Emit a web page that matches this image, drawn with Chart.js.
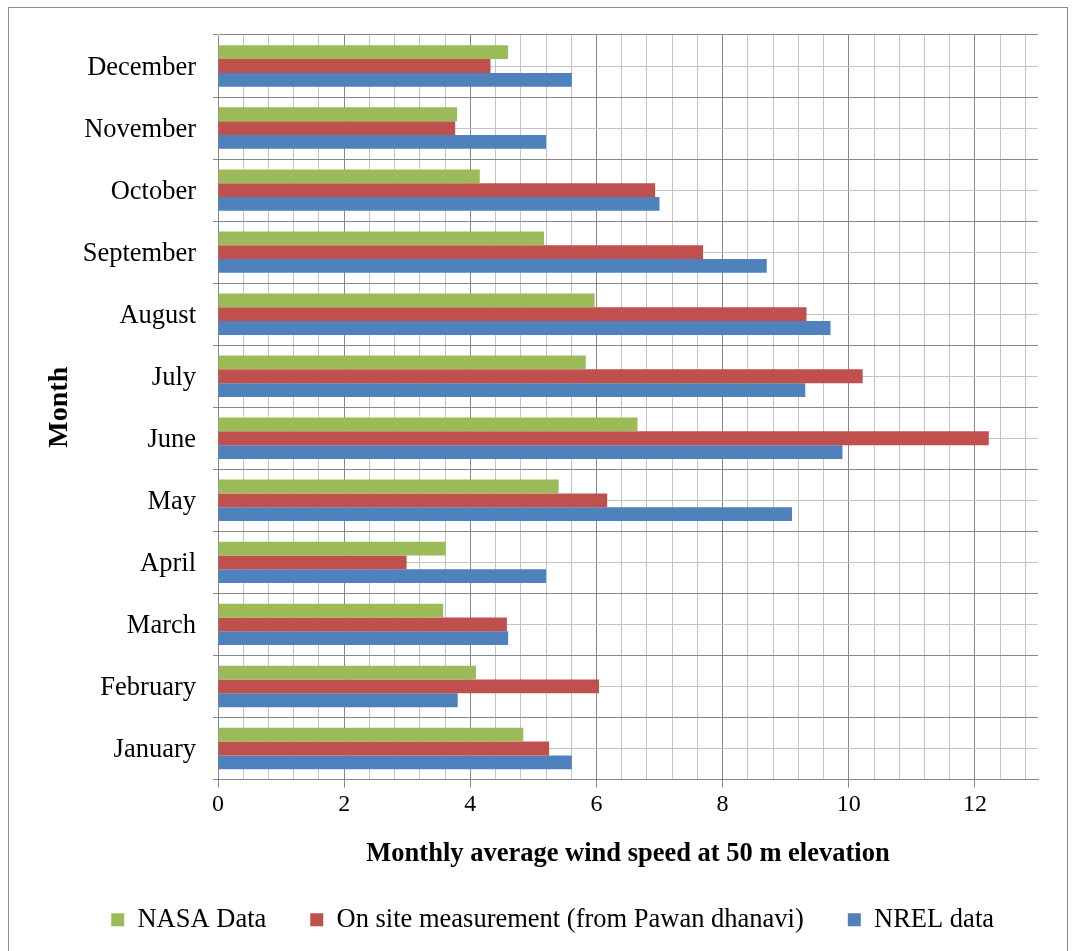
<!DOCTYPE html>
<html>
<head>
<meta charset="utf-8">
<script src="https://cdn.jsdelivr.net/npm/chart.js@4/dist/chart.umd.min.js"></script>
<style>
  html, body { margin: 0; padding: 0; background: #fff; }
  #wrap { position: relative; width: 1076px; height: 951px; overflow: hidden; }
  #frame { position: absolute; left: 8px; top: 7px; width: 1060px; height: 960px; border: 1px solid #8c8c8c; box-sizing: border-box; }
  canvas { position: absolute; left: 0; top: 0; }
</style>
</head>
<body>
<div id="wrap">
  <div id="frame"></div>
  <canvas id="c" width="1076" height="951" style="width:1076px;height:951px"></canvas>
</div>
<script>
// ---- data ----
const months = ["January","February","March","April","May","June","July","August","September","October","November","December"];
const nasaData = [4.84, 4.09, 3.57, 3.61, 5.40, 6.65, 5.83, 5.97, 5.17, 4.15, 3.79, 4.60];
const onSiteData = [5.25, 6.04, 4.58, 2.99, 6.17, 12.22, 10.22, 9.33, 7.69, 6.93, 3.76, 4.32];
const nrelData = [5.61, 3.80, 4.60, 5.20, 9.10, 9.90, 9.31, 9.71, 8.70, 7.00, 5.20, 5.61];
const seriesNames = ["NASA Data", "On site measurement (from Pawan dhanavi)", "NREL data"];
const speedTickLabels = [0, 2, 4, 6, 8, 10, 12];
const axisMin = 0, axisMax = 13, minorStep = 0.4;
const xTitle = "Monthly average wind speed at 50 m elevation";
const yTitle = "Month";

const FONT = "'Liberation Serif', 'Times New Roman', serif";
const MAJOR = '#878787', MINOR = '#c4c4c4';

function isMajor(v) {
  return speedTickLabels.some(t => Math.abs(t - v) < 1e-6);
}

const midLines = {
  id: 'midLines',
  beforeDatasetsDraw(chart) {
    const {ctx, chartArea, scales: {y}} = chart;
    ctx.save();
    ctx.strokeStyle = MINOR;
    ctx.lineWidth = 1;
    months.forEach((m, i) => {
      const py = Math.round(y.getPixelForValue(i)) + 0.5;
      ctx.beginPath();
      ctx.moveTo(chartArea.left, py);
      ctx.lineTo(chartArea.right, py);
      ctx.stroke();
    });
    ctx.restore();
  }
};

new Chart(document.getElementById('c'), {
  type: 'bar',
  data: {
    labels: months,
    datasets: [
      { label: seriesNames[0], data: nasaData, backgroundColor: '#9BBB59' },
      { label: seriesNames[1], data: onSiteData, backgroundColor: '#C0504D' },
      { label: seriesNames[2], data: nrelData, backgroundColor: '#4F81BD' }
    ]
  },
  options: {
    indexAxis: 'y',
    responsive: false,
    animation: false,
    devicePixelRatio: 1,
    datasets: { bar: { categoryPercentage: 0.667, barPercentage: 1.0, borderWidth: 0 } },
    layout: { padding: { left: 0, top: 35, right: 38, bottom: 8 } },
    plugins: {
      legend: {
        position: 'bottom',
        align: 'end',
        labels: {
          font: { family: FONT, size: 26.5 },
          color: '#000',
          boxWidth: 13,
          boxHeight: 13,
          padding: 44
        }
      },
      tooltip: { enabled: false }
    },
    scales: {
      x: {
        type: 'linear',
        min: axisMin,
        max: axisMax,
        afterBuildTicks(scale) {
          const t = [];
          for (let i = 0; axisMin + i * minorStep <= axisMax - 1e-9; i++) t.push({ value: +(axisMin + i * minorStep).toFixed(4) });
          scale.ticks = t;
        },
        afterFit(scale) { scale.height = 83; },
        ticks: {
          autoSkip: false,
          maxRotation: 0,
          padding: 3,
          color: '#000',
          font: { family: FONT, size: 24 },
          callback: (v) => isMajor(v) ? String(Math.round(v)) : ''
        },
        grid: {
          color: (ctx) => (ctx.tick && isMajor(ctx.tick.value)) ? MAJOR : MINOR,
          tickColor: (ctx) => (ctx.tick && isMajor(ctx.tick.value)) ? MAJOR : 'rgba(0,0,0,0)',
          tickLength: 8,
          lineWidth: 1
        },
        border: { display: true, color: MAJOR, width: 1 },
        title: {
          display: true,
          text: xTitle,
          color: '#000',
          font: { family: FONT, size: 26.5, weight: 'bold' },
          padding: { top: 0, bottom: -8 }
        }
      },
      y: {
        type: 'category',
        reverse: true,
        offset: true,
        afterFit(scale) { scale.width = 218; },
        ticks: {
          padding: 17,
          labelOffset: 2,
          color: '#000',
          font: { family: FONT, size: 26.5 }
        },
        grid: {
          offset: true,
          color: MAJOR,
          tickColor: MAJOR,
          tickLength: 5,
          lineWidth: 1
        },
        border: { display: true, color: MAJOR, width: 1 },
        title: {
          display: true,
          text: yTitle,
          color: '#000',
          font: { family: FONT, size: 28, weight: 'bold' },
          padding: { top: 43, bottom: 0 }
        }
      }
    }
  },
  plugins: [midLines]
});
</script>
</body>
</html>
